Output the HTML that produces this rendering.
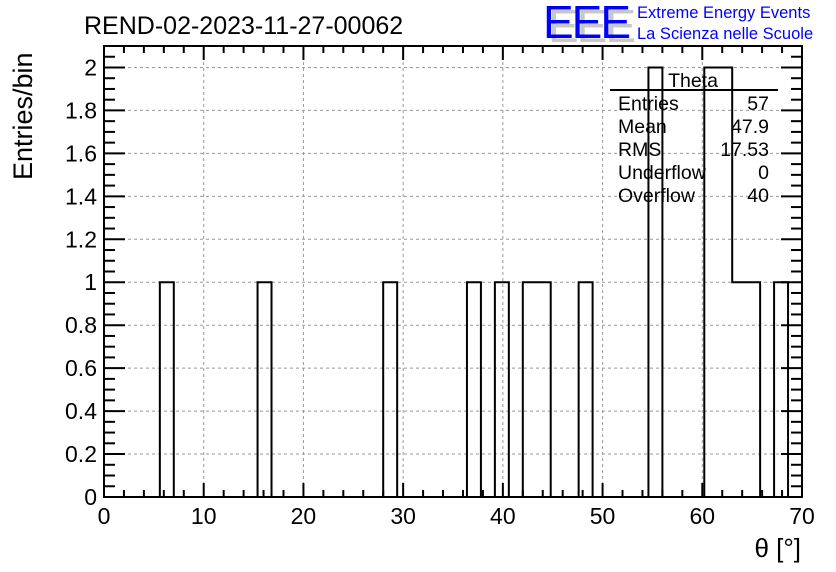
<!DOCTYPE html>
<html><head><meta charset="utf-8"><style>
body{margin:0;background:#fff;}
svg{display:block;font-family:"Liberation Sans",Arial,sans-serif;}
</style></head><body>
<svg id="c" width="836" height="572" viewBox="0 0 836 572">
<rect width="836" height="572" fill="#fff"/>
<text x="84" y="34" font-size="25" fill="#000">REND-02-2023-11-27-00062</text>
<g>
<text x="548" y="42" font-size="46" fill="#c8c8c8" letter-spacing="-2">EEE</text>
<text x="543" y="38" font-size="46" fill="#0000ff" letter-spacing="-2">EEE</text>
<text x="637" y="18" font-size="16.5" fill="#0000ff">Extreme Energy Events</text>
<text x="637" y="39" font-size="16.5" fill="#0000ff">La Scienza nelle Scuole</text>
</g>
<g id="grid"></g>
<g id="hist"></g>
<g id="axes"></g>
<g font-size="19.5" fill="#000">
<text x="693" y="87" text-anchor="middle">Theta</text>
<line x1="610" y1="90" x2="778" y2="90" stroke="#000" stroke-width="2"/>
<text x="618" y="110">Entries</text><text x="769" y="110" text-anchor="end">57</text>
<text x="618" y="133">Mean</text><text x="769" y="133" text-anchor="end">47.9</text>
<text x="618" y="156">RMS</text><text x="769" y="156" text-anchor="end">17.53</text>
<text x="618" y="179">Underflow</text><text x="769" y="179" text-anchor="end">0</text>
<text x="618" y="202">Overflow</text><text x="769" y="202" text-anchor="end">40</text>
</g>
<text x="801" y="557" font-size="26" text-anchor="end">θ [°]</text>
<text transform="translate(32,180) rotate(-90)" font-size="27">Entries/bin</text>
</svg>
<script>
const binLow = 0, binWidth = 1.4;
const binIndex = [4, 11, 20, 26, 28, 30, 31, 34, 39, 43, 44, 45, 46, 48];
const binCounts = [1, 1, 1, 1, 1, 1, 1, 1, 2, 2, 2, 1, 1, 1];
const xTicks = [0, 10, 20, 30, 40, 50, 60, 70];
const yTicks = [0, 0.2, 0.4, 0.6, 0.8, 1, 1.2, 1.4, 1.6, 1.8, 2];
const X0=104, X1=802, Y0=497, Y1=46, XMAX=70, YMAX=2.1, NB=50;
const sx=v=>X0+(v/XMAX)*(X1-X0);
const sy=v=>Y0-(v/YMAX)*(Y0-Y1);
const NS='http://www.w3.org/2000/svg';
function mk(t,a,p){const e=document.createElementNS(NS,t);for(const k in a)e.setAttribute(k,a[k]);p.appendChild(e);return e;}
const grid=document.getElementById('grid'),hist=document.getElementById('hist'),axes=document.getElementById('axes');
xTicks.forEach(v=>{if(v>0&&v<XMAX){const l=mk('line',{x1:sx(v),x2:sx(v),y1:Y0,y2:Y1,stroke:'#999','stroke-dasharray':'3,3'},grid);

}});
yTicks.forEach(v=>{if(v>0){const l=mk('line',{x1:X0,x2:X1,y1:sy(v),y2:sy(v),stroke:'#999','stroke-dasharray':'3,3'},grid);

}});
const counts=new Array(NB).fill(0);
binIndex.forEach((b,i)=>counts[b]=binCounts[i]);
let d='M'+sx(binLow)+','+sy(0);
for(let i=0;i<NB;i++){const a=sx(binLow+i*binWidth),b=sx(binLow+(i+1)*binWidth);d+=' L'+a+','+sy(counts[i])+' L'+b+','+sy(counts[i]);}
d+=' L'+sx(XMAX)+','+sy(0);
const hp=mk('path',{d:d,fill:'none',stroke:'#000','stroke-width':2},hist);


const fr=mk('rect',{x:X0,y:Y1,width:X1-X0,height:Y0-Y1,fill:'none',stroke:'#000','stroke-width':2},axes);


for(let v=0;v<=XMAX+1e-9;v+=2){const maj=Math.abs(v%10)<1e-9,L=maj?14:7;
mk('line',{x1:sx(v),x2:sx(v),y1:Y0,y2:Y0-L,stroke:'#000','stroke-width':2},axes);
mk('line',{x1:sx(v),x2:sx(v),y1:Y1,y2:Y1+L,stroke:'#000','stroke-width':2},axes);}
xTicks.forEach(v=>{const t=mk('text',{x:sx(v),y:Y0+27,'font-size':23,'text-anchor':'middle'},axes);t.textContent=v;

});
for(let i=0;i<=42;i++){const v=i*0.05,maj=i%4===0,L=maj?21:11;
mk('line',{x1:X0,x2:X0+L,y1:sy(v),y2:sy(v),stroke:'#000','stroke-width':2},axes);
mk('line',{x1:X1,x2:X1-L,y1:sy(v),y2:sy(v),stroke:'#000','stroke-width':2},axes);}
yTicks.forEach(v=>{const t=mk('text',{x:X0-7,y:sy(v)+8,'font-size':23,'text-anchor':'end'},axes);t.textContent=String(v);

});
</script>
</body></html>
